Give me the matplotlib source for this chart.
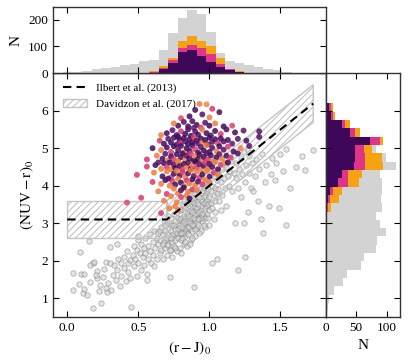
import numpy as np
import matplotlib
matplotlib.use('Agg')
import matplotlib.pyplot as plt
from matplotlib.patches import Polygon
from matplotlib.colors import LinearSegmentedColormap

plt.rcParams['font.family'] = ['Liberation Serif', 'DejaVu Serif']
plt.rcParams['mathtext.fontset'] = 'stix'
plt.rcParams['hatch.linewidth'] = 0.8

# full sample (grey open circles)
gray_pts = [
    (0.04, 1.68), (0.04, 1.22), (0.08, 1.37), (0.10, 1.66), (0.11, 1.15), (0.12, 1.26), (0.16, 1.43),
    (0.18, 0.73), (0.18, 1.93), (0.21, 1.73), (0.21, 1.53), (0.23, 1.35), (0.24, 0.87), (0.27, 1.96),
    (0.28, 1.18), (0.12, 1.64), (0.14, 1.10), (0.20, 1.62), (0.25, 1.58), (0.26, 1.78), (0.29, 1.40),
    (0.30, 2.38), (0.31, 1.22), (0.32, 1.62), (0.33, 1.88), (0.34, 1.50), (0.35, 1.75), (0.36, 2.05),
    (0.37, 1.32), (0.38, 1.95), (0.38, 1.60), (0.40, 2.10), (0.40, 1.80), (0.41, 1.45), (0.42, 2.25),
    (0.43, 1.70), (0.43, 1.95), (0.44, 2.02), (0.44, 1.55), (0.45, 0.78), (0.22, 1.20), (0.16, 1.90),
    (0.35, 2.45), (0.30, 1.93), (0.27, 1.28), (0.15, 2.54), (0.09, 2.24), (0.19, 1.97),
    (0.46, 2.15), (0.47, 1.85), (0.47, 2.40), (0.48, 2.05), (0.49, 1.60), (0.49, 2.30), (0.50, 2.55),
    (0.50, 1.95), (0.51, 2.20), (0.52, 1.75), (0.52, 2.45), (0.53, 2.10), (0.54, 2.35), (0.54, 1.90),
    (0.55, 2.60), (0.55, 2.20), (0.56, 1.65), (0.57, 2.40), (0.57, 2.05), (0.58, 2.70), (0.58, 2.25),
    (0.59, 1.95), (0.60, 2.50), (0.60, 2.15), (0.61, 2.80), (0.61, 1.85), (0.62, 2.35), (0.63, 2.60),
    (0.63, 2.05), (0.64, 2.45), (0.64, 2.75), (0.65, 2.20), (0.65, 2.78), (0.56, 1.48), (0.50, 2.65),
    (0.65, 2.55), (0.66, 2.90), (0.66, 2.30), (0.67, 2.70), (0.67, 2.05), (0.68, 2.50), (0.68, 3.05),
    (0.69, 2.80), (0.69, 2.35), (0.70, 2.60), (0.70, 3.00), (0.70, 2.15), (0.71, 2.75), (0.71, 2.45),
    (0.72, 1.58), (0.72, 2.95), (0.72, 2.60), (0.73, 2.30), (0.73, 3.15), (0.73, 2.80), (0.74, 2.50),
    (0.74, 2.95), (0.74, 2.10), (0.75, 2.70), (0.75, 3.25), (0.75, 2.40), (0.76, 2.85), (0.76, 3.05),
    (0.76, 2.55), (0.77, 2.25), (0.77, 2.75), (0.77, 3.30), (0.78, 2.95), (0.78, 2.60), (0.78, 3.15),
    (0.71, 3.20), (0.69, 2.95), (0.74, 2.68), (0.67, 2.45), (0.76, 2.35), (0.73, 2.62), (0.78, 2.85),
    (0.72, 2.28), (0.75, 2.95), (0.70, 2.42),
    (0.79, 2.70), (0.79, 3.10), (0.79, 2.35), (0.80, 2.90), (0.80, 3.35), (0.80, 2.55), (0.81, 3.05),
    (0.81, 2.75), (0.81, 3.50), (0.82, 2.45), (0.82, 3.20), (0.82, 2.95), (0.83, 2.65), (0.83, 3.40),
    (0.83, 3.00), (0.84, 2.80), (0.84, 3.25), (0.84, 2.40), (0.79, 2.95), (0.80, 3.15), (0.81, 2.60),
    (0.82, 3.60), (0.83, 2.85), (0.84, 3.05), (0.80, 2.20), (0.82, 2.75), (0.83, 3.15), (0.79, 3.35),
    (0.81, 2.90), (0.84, 3.55), (0.80, 2.75), (0.82, 3.05), (0.83, 2.50),
    (0.85, 3.00), (0.85, 3.40), (0.85, 2.70), (0.86, 3.20), (0.86, 3.65), (0.86, 2.85), (0.87, 3.35),
    (0.87, 2.55), (0.87, 3.05), (0.88, 3.50), (0.88, 3.15), (0.88, 2.80), (0.89, 1.29), (0.89, 3.30),
    (0.89, 3.80), (0.89, 2.95), (0.90, 3.45), (0.90, 3.10), (0.90, 2.65), (0.91, 3.25), (0.91, 3.60),
    (0.91, 2.90), (0.85, 3.20), (0.86, 3.00), (0.87, 3.55), (0.88, 2.95), (0.89, 3.15), (0.90, 3.70),
    (0.86, 2.45), (0.87, 3.85), (0.88, 3.30), (0.90, 2.85), (0.91, 3.40), (0.85, 2.90), (0.89, 3.55),
    (0.86, 3.45), (0.88, 2.60), (0.90, 3.25),
    (0.92, 3.30), (0.92, 3.70), (0.92, 2.95), (0.93, 3.50), (0.93, 3.10), (0.93, 3.90), (0.94, 3.35),
    (0.94, 2.80), (0.94, 3.65), (0.95, 3.45), (0.95, 3.05), (0.95, 3.85), (0.96, 3.55), (0.96, 3.20),
    (0.96, 4.00), (0.97, 3.40), (0.97, 2.90), (0.97, 3.75), (0.98, 3.60), (0.98, 3.25), (0.98, 4.05),
    (0.92, 3.50), (0.93, 3.30), (0.94, 3.95), (0.95, 3.25), (0.96, 3.70), (0.97, 3.15), (0.98, 3.45),
    (0.93, 2.75), (0.95, 3.60), (0.96, 2.95), (0.97, 3.95), (0.94, 3.15), (0.92, 3.10), (0.98, 3.85),
    (0.95, 4.15), (0.97, 3.55), (0.93, 3.70),
    (0.99, 3.50), (0.99, 3.90), (0.99, 3.15), (1.00, 3.70), (1.00, 4.10), (1.00, 3.35), (1.01, 3.85),
    (1.01, 3.55), (1.02, 1.95), (1.02, 4.00), (1.02, 3.40), (1.03, 3.75), (1.03, 4.25), (1.03, 3.10),
    (1.04, 3.95), (1.04, 3.60), (1.05, 2.05), (1.05, 4.15), (1.05, 3.80), (1.01, 4.30), (1.04, 3.30),
    (1.00, 2.95),
    (1.06, 3.90), (1.06, 4.30), (1.07, 3.60), (1.08, 4.10), (1.09, 4.45), (1.09, 3.75), (1.10, 4.20),
    (1.11, 3.95), (1.12, 4.50), (1.12, 3.45), (1.13, 4.25), (1.14, 4.00), (1.15, 4.65), (1.16, 3.85),
    (1.17, 4.35), (1.18, 3.00), (1.08, 3.35), (1.14, 4.40),
    (1.19, 4.20), (1.19, 4.60), (1.20, 1.75), (1.20, 3.95), (1.21, 4.45), (1.22, 4.75), (1.22, 3.70),
    (1.23, 4.30), (1.24, 4.90), (1.25, 2.09), (1.25, 4.10), (1.26, 4.55), (1.27, 3.30), (1.28, 4.35),
    (1.28, 4.80), (1.29, 3.95), (1.30, 4.60), (1.31, 3.85), (1.24, 3.00), (1.27, 4.95),
    (1.32, 4.25), (1.33, 4.70), (1.34, 3.60), (1.35, 4.45), (1.36, 3.10), (1.37, 4.85), (1.38, 2.73),
    (1.39, 4.10), (1.40, 4.55), (1.42, 3.45), (1.43, 4.30), (1.44, 4.75),
    (1.46, 4.15), (1.47, 4.60), (1.49, 3.40), (1.50, 4.85), (1.52, 4.40), (1.54, 2.95), (1.54, 4.98),
    (1.57, 3.95), (1.61, 4.50), (1.65, 4.78), (1.67, 4.41), (1.73, 4.95),
]
gray_x = [p[0] for p in gray_pts]
gray_y = [p[1] for p in gray_pts]

# selected galaxies (x, y, colour value)
sel_pts = [
    (0.93, 6.18, 0.85), (0.98, 6.17, 0.90), (0.90, 6.02, 0.20), (1.02, 6.05, 0.60),
    (0.86, 5.85, 0.20), (0.95, 5.90, 0.30), (1.07, 5.96, 0.25), (0.80, 5.80, 0.65), (1.00, 5.82, 0.85),
    (0.78, 5.60, 0.20), (0.82, 5.70, 0.30), (0.85, 5.58, 0.15), (0.88, 5.72, 0.25), (0.91, 5.62, 0.20),
    (0.94, 5.55, 0.60), (0.97, 5.68, 0.30), (1.00, 5.60, 0.15), (1.04, 5.66, 0.85), (1.10, 5.58, 0.20),
    (0.75, 5.66, 0.85), (0.89, 5.54, 0.35), (1.16, 5.60, 0.65),
    (0.70, 5.40, 0.20), (0.74, 5.48, 0.30), (0.77, 5.35, 0.15), (0.80, 5.45, 0.60), (0.83, 5.38, 0.20),
    (0.85, 5.50, 0.25), (0.87, 5.33, 0.15), (0.90, 5.44, 0.30), (0.92, 5.36, 0.20), (0.95, 5.49, 0.85),
    (0.98, 5.40, 0.20), (1.01, 5.34, 0.30), (1.04, 5.46, 0.15), (1.08, 5.38, 0.60), (1.12, 5.50, 0.25),
    (1.18, 5.42, 0.20), (1.24, 5.47, 0.35), (1.35, 5.45, 0.30), (0.66, 5.35, 0.85),
    (0.65, 5.20, 0.60), (0.68, 5.12, 0.20), (0.71, 5.25, 0.30), (0.73, 5.15, 0.15), (0.75, 5.28, 0.20),
    (0.77, 5.10, 0.25), (0.79, 5.22, 0.20), (0.80, 5.14, 0.60), (0.82, 5.27, 0.15), (0.83, 5.18, 0.30),
    (0.85, 5.11, 0.20), (0.86, 5.24, 0.25), (0.88, 5.16, 0.15), (0.89, 5.29, 0.60), (0.91, 5.20, 0.20),
    (0.92, 5.12, 0.30), (0.94, 5.26, 0.20), (0.95, 5.15, 0.85), (0.97, 5.22, 0.15), (0.99, 5.10, 0.25),
    (1.00, 5.28, 0.20), (1.02, 5.17, 0.30), (1.04, 5.24, 0.15), (1.06, 5.13, 0.60), (1.08, 5.26, 0.20),
    (1.10, 5.18, 0.25), (1.13, 5.22, 0.20), (1.16, 5.12, 0.35), (1.20, 5.25, 0.30), (1.26, 5.20, 0.20),
    (1.35, 5.30, 0.25), (0.78, 5.30, 0.20),
    (0.66, 4.95, 0.85), (0.70, 5.02, 0.20), (0.73, 4.90, 0.60), (0.75, 5.05, 0.15), (0.78, 4.95, 0.30),
    (0.80, 5.06, 0.20), (0.82, 4.89, 0.85), (0.84, 5.00, 0.15), (0.86, 4.93, 0.25), (0.88, 5.07, 0.20),
    (0.90, 4.97, 0.60), (0.92, 4.88, 0.20), (0.94, 5.03, 0.30), (0.96, 4.94, 0.15), (0.98, 5.08, 0.85),
    (1.00, 4.90, 0.20), (1.02, 5.01, 0.25), (1.05, 4.92, 0.85), (1.07, 5.05, 0.20), (1.10, 4.96, 0.30),
    (1.13, 5.04, 0.60), (1.17, 4.91, 0.20), (1.22, 5.00, 0.85), (1.28, 5.06, 0.30), (0.60, 5.00, 0.20),
    (0.56, 4.70, 0.60), (0.63, 4.80, 0.85), (0.67, 4.72, 0.20), (0.69, 4.85, 0.30), (0.71, 4.68, 0.85),
    (0.73, 4.78, 0.15), (0.75, 4.70, 0.60), (0.77, 4.84, 0.20), (0.78, 4.66, 0.85), (0.80, 4.76, 0.25),
    (0.81, 4.86, 0.15), (0.83, 4.69, 0.85), (0.84, 4.80, 0.30), (0.86, 4.73, 0.20), (0.87, 4.85, 0.60),
    (0.89, 4.67, 0.15), (0.90, 4.79, 0.85), (0.92, 4.71, 0.20), (0.93, 4.83, 0.25), (0.95, 4.68, 0.85),
    (0.96, 4.77, 0.20), (0.98, 4.86, 0.30), (0.99, 4.70, 0.60), (1.01, 4.81, 0.20), (1.03, 4.67, 0.85),
    (1.05, 4.76, 0.15), (1.07, 4.84, 0.30), (1.09, 4.72, 0.85), (1.12, 4.80, 0.20), (1.15, 4.75, 0.60),
    (1.20, 4.86, 0.25),
    (0.56, 4.51, 0.60), (0.62, 4.55, 0.20), (0.66, 4.45, 0.85), (0.68, 4.60, 0.20), (0.70, 4.50, 0.60),
    (0.72, 4.62, 0.15), (0.73, 4.44, 0.85), (0.75, 4.56, 0.30), (0.76, 4.47, 0.20), (0.78, 4.63, 0.85),
    (0.79, 4.52, 0.15), (0.81, 4.43, 0.60), (0.82, 4.58, 0.20), (0.84, 4.49, 0.85), (0.85, 4.61, 0.25),
    (0.87, 4.46, 0.20), (0.88, 4.55, 0.85), (0.90, 4.64, 0.15), (0.91, 4.48, 0.60), (0.93, 4.57, 0.30),
    (0.94, 4.43, 0.85), (0.96, 4.53, 0.20), (0.97, 4.62, 0.60), (0.99, 4.46, 0.85), (1.00, 4.58, 0.20),
    (1.02, 4.50, 0.25), (1.04, 4.63, 0.85), (1.06, 4.44, 0.15), (1.08, 4.56, 0.60), (1.11, 4.60, 0.85),
    (1.13, 4.62, 0.20), (0.64, 4.62, 0.30),
    (0.49, 4.29, 0.60), (0.61, 4.35, 0.85), (0.67, 4.25, 0.20), (0.70, 4.38, 0.85), (0.73, 4.22, 0.60),
    (0.75, 4.32, 0.20), (0.77, 4.40, 0.85), (0.79, 4.27, 0.15), (0.81, 4.36, 0.60), (0.83, 4.23, 0.85),
    (0.85, 4.33, 0.20), (0.87, 4.41, 0.85), (0.89, 4.26, 0.30), (0.91, 4.37, 0.85), (0.93, 4.21, 0.60),
    (0.95, 4.30, 0.20), (0.98, 4.39, 0.85), (1.00, 4.24, 0.20), (1.03, 4.35, 0.60), (1.06, 4.30, 0.85),
    (0.60, 4.10, 0.60), (0.66, 4.05, 0.85), (0.69, 4.15, 0.20), (0.72, 4.00, 0.85), (0.74, 4.12, 0.60),
    (0.76, 4.03, 0.20), (0.78, 4.18, 0.85), (0.80, 4.08, 0.15), (0.82, 3.99, 0.85), (0.84, 4.14, 0.60),
    (0.86, 4.06, 0.85), (0.88, 4.17, 0.20), (0.90, 4.02, 0.85), (0.92, 4.11, 0.30), (0.95, 4.04, 0.60),
    (0.97, 4.16, 0.85), (1.00, 4.08, 0.85), (0.71, 4.19, 0.25),
    (0.64, 3.85, 0.85), (0.70, 3.78, 0.60), (0.75, 3.92, 0.85), (0.78, 3.80, 0.85), (0.82, 3.95, 0.20),
    (0.85, 3.84, 0.85), (0.88, 3.90, 0.60), (0.91, 3.88, 0.85), (0.80, 3.88, 0.25),
    (0.52, 3.68, 0.60), (0.68, 3.60, 0.85), (0.73, 3.72, 0.85), (0.77, 3.56, 0.85), (0.80, 3.70, 0.60),
    (0.84, 3.74, 0.85), (0.86, 3.66, 0.20), (0.42, 3.55, 0.65),
    (0.72, 3.40, 0.85), (0.76, 3.45, 0.85), (0.78, 3.35, 0.85), (0.66, 3.27, 0.60),
]
sel_x = [p[0] for p in sel_pts]
sel_y = [p[1] for p in sel_pts]
sel_c = [p[2] for p in sel_pts]

# top histogram, (r-J)0 bins
top_edges = np.linspace(-0.028, 1.58, 25)
top_all = [3, 5, 8, 16, 19, 22, 29, 35, 46, 51, 87, 152, 205, 236, 222, 155, 76, 44, 38, 31, 22, 16, 11, 6]
top_purple = [0]*9 + [2, 14, 39, 78, 86, 66, 42, 22, 10, 4, 1] + [0]*4
top_pink = [0]*9 + [2, 6, 9, 17, 19, 27, 28, 14, 4, 2, 0] + [0]*4
top_orange = [0]*9 + [3, 7, 9, 25, 34, 29, 31, 19, 3, 2, 1] + [0]*4

# right histogram, (NUV-r)0 bins
right_edges = np.linspace(0.649, 6.199, 26)
right_all = [3, 5, 14, 28, 34, 58, 62, 82, 84, 99, 90, 82, 93, 91, 92, 92, 90, 115, 99, 82, 95, 57, 39, 15, 11]
right_purple = [0]*11 + [1, 2, 4, 6, 20, 26, 46, 48, 48, 73, 40, 27, 8, 5]
right_pink = [0]*11 + [0, 1, 3, 5, 16, 11, 19, 17, 14, 17, 8, 5, 4, 3]
right_orange = [0]*11 + [1, 6, 14, 16, 18, 22, 30, 27, 14, 5, 9, 7, 3, 3]

# selection boundaries
ilbert_x = [0.0, 0.7, 1.73]
ilbert_y = [3.1, 3.1, 6.19]
box_x = [0.0, 0.7, 0.7, 0.0]
box_y = [2.6, 2.6, 3.6, 3.6]
band_x = [0.7, 1.73, 1.73, 0.7]
band_y = [2.6, 5.69, 6.69, 3.6]

c_purple = '#3d0859'
c_pink = '#e0338a'
c_orange = '#f5a312'
c_gray = '#d3d3d3'
cmap = LinearSegmentedColormap.from_list('sel', ['#300649', '#420a5c', '#6a1670', '#d8386e', '#ec6a48', '#f5ad30'])

fig = plt.figure(figsize=(4.08, 3.64), dpi=100)
ax = fig.add_axes([0.130, 0.129, 0.669, 0.670])
ax_top = fig.add_axes([0.130, 0.799, 0.669, 0.181], sharex=ax)
ax_right = fig.add_axes([0.799, 0.129, 0.181, 0.670], sharey=ax)

ax.scatter(gray_x, gray_y, s=15, facecolor=c_gray, edgecolor='#777777', linewidth=0.6, alpha=0.55, zorder=1)
ax.add_patch(Polygon(list(zip(box_x, box_y)), closed=True, facecolor='none', edgecolor='#c4c4c4',
                     hatch='/////', linewidth=1.0, zorder=2, label='Davidzon et al. (2017)'))
ax.add_patch(Polygon(list(zip(band_x, band_y)), closed=True, facecolor='none', edgecolor='#c4c4c4',
                     hatch='/////', linewidth=1.0, zorder=2))
ax.scatter(sel_x, sel_y, c=sel_c, cmap=cmap, vmin=0, vmax=1, s=18, edgecolor='none', alpha=0.85, zorder=3)
ax.plot(ilbert_x, ilbert_y, color='k', ls='--', lw=1.5, dashes=(4, 2.5), zorder=5, label='Ilbert et al. (2013)')

ax.set_xlim(-0.1, 1.82)
ax.set_ylim(0.5, 7.0)
ax.set_xticks([0.0, 0.5, 1.0, 1.5])
ax.set_yticks([1, 2, 3, 4, 5, 6])
ax.set_xlabel(r'$(\mathrm{r}-\mathrm{J})_0$', fontsize=11)
ax.set_ylabel(r'$(\mathrm{NUV}-\mathrm{r})_0$', fontsize=11)
handles, labels = ax.get_legend_handles_labels()
ax.legend(handles[::-1], labels[::-1], loc='upper left', frameon=False, fontsize=8, handlelength=2.2)

# top histogram
w = np.diff(top_edges)
ax_top.bar(top_edges[:-1], top_all, width=w, align='edge', color=c_gray, linewidth=0)
ax_top.bar(top_edges[:-1], top_purple, width=w, align='edge', color=c_purple, linewidth=0)
b = np.array(top_purple)
ax_top.bar(top_edges[:-1], top_pink, width=w, bottom=b, align='edge', color=c_pink, linewidth=0)
b = b + np.array(top_pink)
ax_top.bar(top_edges[:-1], top_orange, width=w, bottom=b, align='edge', color=c_orange, linewidth=0)
ax_top.set_ylim(0, 247)
ax_top.set_yticks([0, 100, 200])
ax_top.set_ylabel('N', fontsize=11)
ax_top.tick_params(labelbottom=False)

# right histogram
h = np.diff(right_edges)
ax_right.barh(right_edges[:-1], right_all, height=h, align='edge', color=c_gray, linewidth=0)
ax_right.barh(right_edges[:-1], right_purple, height=h, align='edge', color=c_purple, linewidth=0)
b = np.array(right_purple)
ax_right.barh(right_edges[:-1], right_pink, height=h, left=b, align='edge', color=c_pink, linewidth=0)
b = b + np.array(right_pink)
ax_right.barh(right_edges[:-1], right_orange, height=h, left=b, align='edge', color=c_orange, linewidth=0)
ax_right.set_xlim(0, 122)
ax_right.set_xticks([0, 50, 100])
ax_right.set_xlabel('N', fontsize=11)
ax_right.tick_params(labelleft=False)

for a in (ax, ax_top, ax_right):
    a.tick_params(direction='in', top=True, right=True, length=4, width=0.8, labelsize=9.5)
    for sp in a.spines.values():
        sp.set_linewidth(1.0)
        sp.set_color('#333333')

fig.savefig('out.png', dpi=100)
